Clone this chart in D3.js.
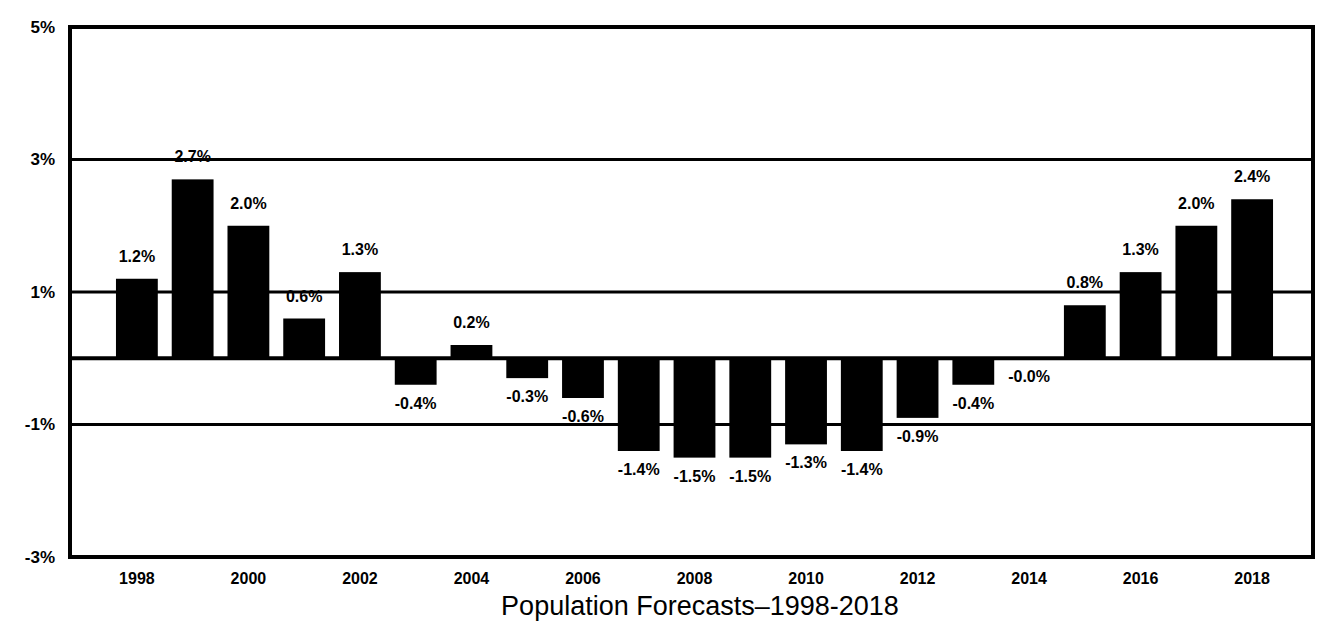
<!DOCTYPE html>
<html>
<head>
<meta charset="utf-8">
<script src="https://cdn.jsdelivr.net/npm/d3@7"></script>
<style>
  body { margin: 0; background: #fff; }
  svg { display: block; }
  text { font-family: "Liberation Sans", Arial, sans-serif; fill: #000; }
</style>
</head>
<body>
<svg id="chart"></svg>
<script>
// yearly population growth, percent
const years = ["1998", "1999", "2000", "2001", "2002", "2003", "2004", "2005", "2006", "2007",
               "2008", "2009", "2010", "2011", "2012", "2013", "2014", "2015", "2016", "2017", "2018"];
const growth = [1.2, 2.7, 2.0, 0.6, 1.3, -0.4, 0.2, -0.3, -0.6, -1.4,
                -1.5, -1.5, -1.3, -1.4, -0.9, -0.4, -0.0, 0.8, 1.3, 2.0, 2.4];
const yTicks = [5, 3, 1, -1, -3];
const yearTicks = ["1998", "2000", "2002", "2004", "2006", "2008", "2010", "2012", "2014", "2016", "2018"];
const gridValues = [3, 1, -1];
const axisTitle = "Population Forecasts\u20131998-2018";

const width = 1318, height = 624;
const margin = { top: 27, right: 5, bottom: 67, left: 70 };

const svg = d3.select("#chart")
    .attr("width", width)
    .attr("height", height);

const data = years.map((y, i) => ({ year: y, value: growth[i] }));
const isNeg = v => v < 0 || Object.is(v, -0);

const x = d3.scaleBand()
    .domain(years)
    .range([109, 1280])
    .paddingInner(0.25)
    .paddingOuter(0.125);

const y = d3.scaleLinear()
    .domain([-3, 5])
    .range([height - margin.bottom, margin.top]);

// gridlines + zero line
svg.append("g")
    .selectAll("line")
    .data(gridValues.concat([0]))
    .join("line")
    .attr("x1", margin.left)
    .attr("x2", width - margin.right)
    .attr("y1", d => y(d))
    .attr("y2", d => y(d))
    .attr("stroke", "#000")
    .attr("stroke-width", d => d === 0 ? 4 : 3);

// bars
svg.append("g")
    .selectAll("rect")
    .data(data)
    .join("rect")
    .attr("x", d => x(d.year))
    .attr("width", x.bandwidth())
    .attr("y", d => y(Math.max(0, d.value)))
    .attr("height", d => Math.abs(y(d.value) - y(0)))
    .attr("fill", "#000");

// value labels
svg.append("g")
    .selectAll("text")
    .data(data)
    .join("text")
    .attr("x", d => x(d.year) + x.bandwidth() / 2)
    .attr("y", d => isNeg(d.value) ? y(d.value) + 24 : y(d.value) - 17)
    .attr("text-anchor", "middle")
    .style("font-size", "16px")
    .style("font-weight", "bold")
    .text(d => (isNeg(d.value) ? "-" : "") + Math.abs(d.value).toFixed(1) + "%");

// frame
svg.append("rect")
    .attr("x", margin.left)
    .attr("y", margin.top)
    .attr("width", width - margin.left - margin.right)
    .attr("height", height - margin.top - margin.bottom)
    .attr("fill", "none")
    .attr("stroke", "#000")
    .attr("stroke-width", 4);

// y axis
const yAxis = svg.append("g")
    .attr("transform", `translate(${margin.left},0)`)
    .call(d3.axisLeft(y).tickValues(yTicks).tickFormat(d => d + "%").tickSize(0).tickPadding(15));
yAxis.select(".domain").remove();
yAxis.selectAll("text")
    .style("font-size", "17px")
    .style("font-weight", "bold")
    .style("font-family", "'Liberation Sans', Arial, sans-serif");

// x axis
const xAxis = svg.append("g")
    .attr("transform", `translate(0,${height - margin.bottom})`)
    .call(d3.axisBottom(x).tickValues(yearTicks).tickSize(0).tickPadding(16));
xAxis.select(".domain").remove();
xAxis.selectAll("text")
    .style("font-size", "16px")
    .style("font-weight", "bold")
    .style("font-family", "'Liberation Sans', Arial, sans-serif");

// axis title
svg.append("text")
    .attr("x", 700)
    .attr("y", 615)
    .attr("text-anchor", "middle")
    .style("font-size", "27px")
    .text(axisTitle);
</script>
</body>
</html>
